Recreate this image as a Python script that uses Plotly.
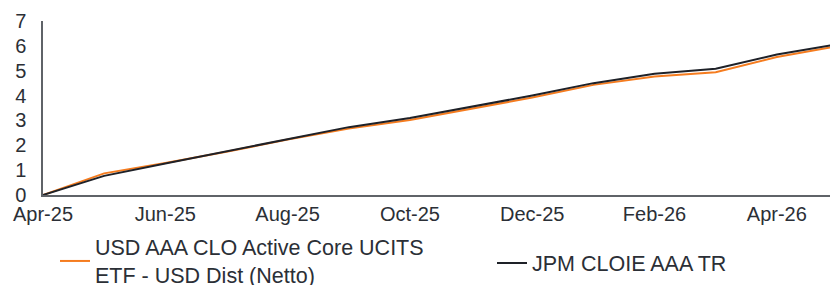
import plotly.graph_objects as go

months = ["Apr-25", "May-25", "Jun-25", "Jul-25", "Aug-25", "Sep-25", "Oct-25",
          "Nov-25", "Dec-25", "Jan-26", "Feb-26", "Mar-26", "Apr-26", "May-26"]
etf_values = [0, 0.87, 1.29, 1.74, 2.23, 2.67, 3.02, 3.47, 3.92, 4.43, 4.77, 4.94, 5.55, 5.99]
index_values = [0, 0.77, 1.27, 1.75, 2.25, 2.73, 3.10, 3.55, 4.00, 4.50, 4.88, 5.08, 5.65, 6.07]
tick_labels = ["Apr-25", "Jun-25", "Aug-25", "Oct-25", "Dec-25", "Feb-26", "Apr-26"]
y_ticks = [0, 1, 2, 3, 4, 5, 6, 7]

FONT = "Liberation Sans, Arial, sans-serif"
TEXT = "#2b2f36"
AXIS = "#5f6368"

# page body has an 8px margin; layout is expressed in figure pixels
OFF = 8
FIG_W, FIG_H = 838, 285
M_L, M_T = 43 - OFF, 21 - OFF
M_R = OFF
M_B = FIG_H - (195 - OFF)
PLOT_W = FIG_W - M_L - M_R
PLOT_H = FIG_H - M_T - M_B

def px_x(x):
    return (x - OFF - M_L) / PLOT_W

def px_y(y):
    return (FIG_H - M_B - (y - OFF)) / PLOT_H

fig = go.Figure()
fig.add_trace(go.Scatter(
    x=months, y=etf_values, mode="lines",
    name="USD AAA CLO Active Core UCITS<br>ETF - USD Dist (Netto)",
    line=dict(color="#F57C1F", width=2),
    legend="legend",
))
fig.add_trace(go.Scatter(
    x=months, y=index_values, mode="lines",
    name="JPM CLOIE AAA TR",
    line=dict(color="#1e2128", width=2),
    legend="legend2",
))

legend_common = dict(
    orientation="h", xanchor="left", yanchor="middle",
    font=dict(family=FONT, size=21.5, color=TEXT),
    valign="middle", bgcolor="rgba(0,0,0,0)", borderwidth=0,
)

fig.update_layout(
    width=FIG_W, height=FIG_H,
    margin=dict(l=M_L, r=M_R, t=M_T, b=M_B, autoexpand=False),
    paper_bgcolor="white", plot_bgcolor="white",
    font=dict(family=FONT, size=20, color=TEXT),
    showlegend=True,
    legend=dict(x=px_x(55), y=px_y(261), **legend_common),
    legend2=dict(x=px_x(492), y=px_y(263), **legend_common),
    xaxis=dict(
        type="category", categoryorder="array", categoryarray=months,
        range=[0, len(months) - 1],
        tickmode="array", tickvals=tick_labels, ticktext=tick_labels,
        showgrid=False, zeroline=False,
        showline=True, linecolor=AXIS, linewidth=2,
        ticks="", tickfont=dict(family=FONT, size=20, color=TEXT),
    ),
    yaxis=dict(
        range=[0, 7], tickmode="array", tickvals=y_ticks,
        showgrid=False, zeroline=False,
        showline=True, linecolor=AXIS, linewidth=1.5,
        ticks="", ticklabelstandoff=11,
        tickfont=dict(family=FONT, size=20, color=TEXT),
    ),
)

fig.write_html("out.html")
